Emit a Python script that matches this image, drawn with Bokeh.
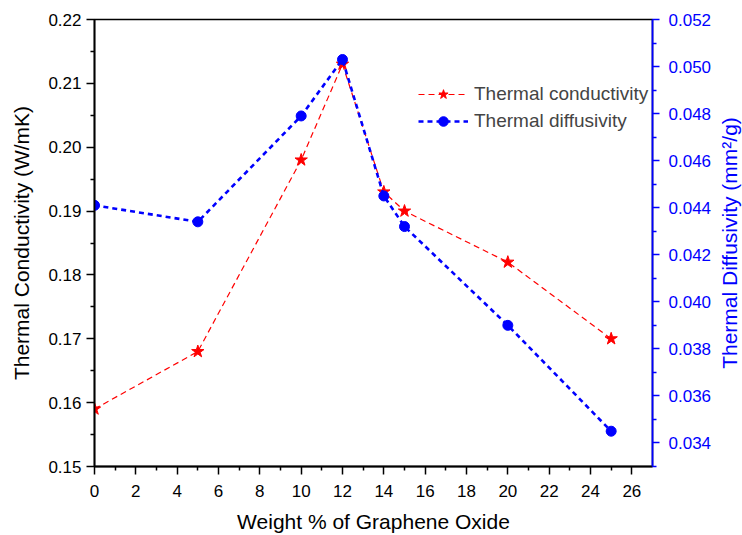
import math
from bokeh.plotting import figure
from bokeh.layouts import row
from bokeh.models import Range1d, LinearAxis, FixedTicker, PrintfTickFormatter, Legend, LegendItem
from bokeh.core.properties import value
from bokeh.embed import file_html
from bokeh.resources import INLINE

# ---- data ----
weight_pct = [0, 5, 10, 12, 14, 15, 20, 25]
conductivity = [0.159, 0.168, 0.198, 0.213, 0.193, 0.190, 0.182, 0.170]
diffusivity = [0.0441, 0.0434, 0.0479, 0.0503, 0.0445, 0.0432, 0.0390, 0.0345]

x_ticks = list(range(0, 27, 2))
x_minor = list(range(1, 27, 2))
left_ticks = [0.15, 0.16, 0.17, 0.18, 0.19, 0.20, 0.21, 0.22]
left_minor = [0.155, 0.165, 0.175, 0.185, 0.195, 0.205, 0.215]
right_ticks = [0.034, 0.036, 0.038, 0.040, 0.042, 0.044, 0.046, 0.048, 0.050, 0.052]
right_minor = [0.033, 0.035, 0.037, 0.039, 0.041, 0.043, 0.045, 0.047, 0.049, 0.051]
right_title = "Thermal Diffusivity (mm\u00b2/g)"

FONT = "Liberation Sans"
BLUE = "#0000FF"
RED = "#FF0000"

p = figure(width=716, height=535, output_backend="svg", toolbar_location=None,
           x_range=Range1d(0, 27), y_range=Range1d(0.15, 0.22),
           min_border_left=94, min_border_right=64, min_border_top=19, min_border_bottom=69)
p.extra_y_ranges = {"diff": Range1d(0.033, 0.052)}
p.xgrid.visible = False
p.ygrid.visible = False
p.outline_line_color = "black"
p.outline_line_width = 1.5
p.background_fill_color = "white"
p.border_fill_color = "white"

def style_axis(ax, color):
    ax.axis_line_color = color
    ax.axis_line_width = 1.8
    ax.major_tick_line_color = color
    ax.minor_tick_line_color = color
    ax.major_tick_line_width = 1.5
    ax.minor_tick_line_width = 1.5
    ax.major_tick_out = 8
    ax.major_tick_in = 0
    ax.minor_tick_out = 4
    ax.minor_tick_in = 0
    ax.major_label_text_font = FONT
    ax.major_label_text_font_size = "17px"
    ax.major_label_text_color = color
    ax.axis_label_text_font = FONT
    ax.axis_label_text_font_size = "21px"
    ax.axis_label_text_font_style = "normal"
    ax.axis_label_text_color = color

xa = p.xaxis[0]
xa.ticker = FixedTicker(ticks=x_ticks, minor_ticks=x_minor)
xa.axis_label = "Weight % of Graphene Oxide"
style_axis(xa, "black")
xa.major_label_standoff = 10
xa.axis_label_standoff = 10

ya = p.yaxis[0]
ya.ticker = FixedTicker(ticks=left_ticks, minor_ticks=left_minor)
ya.formatter = PrintfTickFormatter(format="%.2f")
ya.axis_label = "Thermal Conductivity (W/mK)"
style_axis(ya, "black")
ya.major_label_standoff = 5
ya.axis_label_standoff = 12

ra = LinearAxis(y_range_name="diff")
ra.ticker = FixedTicker(ticks=right_ticks, minor_ticks=right_minor)
ra.formatter = PrintfTickFormatter(format="%.3f")
style_axis(ra, BLUE)
ra.major_tick_out = 7
ra.major_label_standoff = 9
p.add_layout(ra, "right")

l1 = p.line(weight_pct, conductivity, line_color=RED, line_width=1.2, line_dash="6 4")
s1 = p.scatter(weight_pct, conductivity, marker="star", size=13, fill_color=RED, line_color=RED)
l2 = p.line(weight_pct, diffusivity, line_color=BLUE, line_width=2.6, line_dash="5 4", y_range_name="diff")
s2 = p.scatter(weight_pct, diffusivity, marker="circle", size=10, fill_color=BLUE, line_color=BLUE, y_range_name="diff")

legend = Legend(items=[LegendItem(label="Thermal conductivity", renderers=[l1, s1]),
                       LegendItem(label="Thermal diffusivity", renderers=[l2, s2])],
                location=(324, 333))
legend.border_line_color = None
legend.background_fill_alpha = 0
legend.padding = 0
legend.margin = 0
legend.spacing = 3
legend.glyph_width = 50
legend.glyph_height = 24
legend.label_height = 24
legend.label_standoff = 6
legend.label_text_font = FONT
legend.label_text_font_size = "19px"
p.add_layout(legend, "center")

# narrow side figure holding the right-hand axis title (reads bottom-to-top)
p2 = figure(width=26, height=535, output_backend="svg", toolbar_location=None,
            x_range=Range1d(0, 1), y_range=Range1d(0.15, 0.22),
            min_border_left=0, min_border_right=0, min_border_top=19, min_border_bottom=69)
p2.axis.visible = False
p2.grid.visible = False
p2.outline_line_color = None
p2.background_fill_color = "white"
p2.border_fill_color = "white"
p2.text(x=[0.5], y=[0.185], text=[right_title], angle=math.pi / 2,
        text_align="center", text_baseline="middle",
        text_font=value(FONT), text_font_size="21px", text_color=BLUE)

layout = row(p, p2, spacing=0)
open("out.html", "w").write(file_html(layout, INLINE))
